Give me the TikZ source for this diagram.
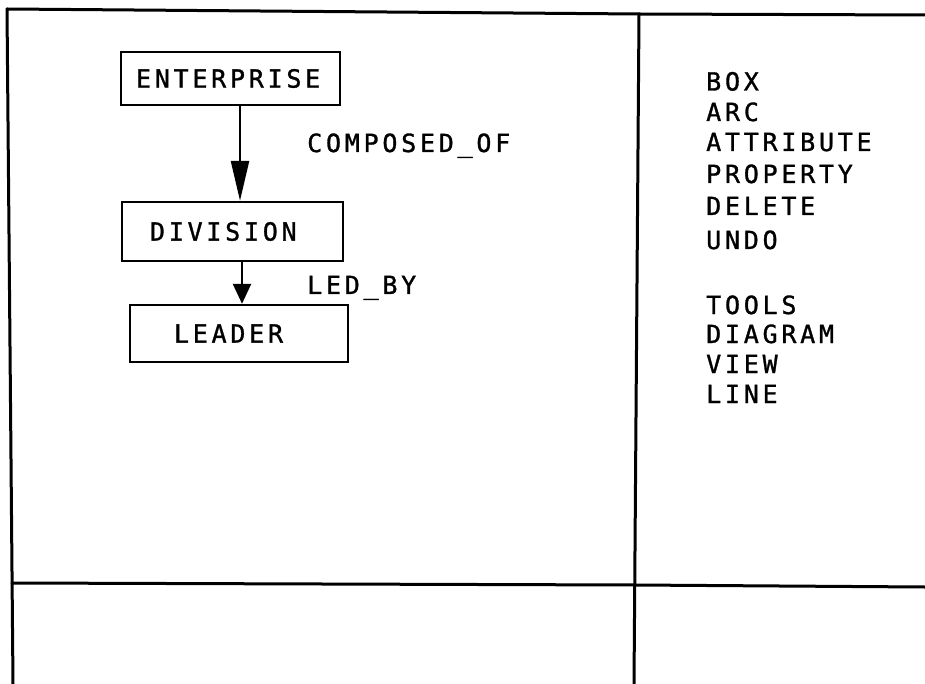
\documentclass[tikz,border=0pt]{standalone}
\usepackage{fontspec}
\newfontfamily\plotfont[LetterSpace=15,FakeBold=1.2]{DejaVu Sans Mono}
\usetikzlibrary{arrows.meta,calc}
\begin{document}
\begin{tikzpicture}[x=1pt,y=-1pt,
  frame/.style={line width=3pt,line cap=round,line join=round},
  boxnode/.style={draw,line width=2.4pt,rectangle,inner ysep=0pt,align=left,font=\plotfont\fontsize{25}{28}\selectfont},
  conn/.style={line width=2.5pt},
  lbl/.style={anchor=base west,inner sep=0pt,font=\plotfont\fontsize{25}{28}\selectfont}]
\useasboundingbox (0,0) rectangle (925,684);
% frame
\draw[frame] (7,9) -- (639,14) -- (925,15);
\draw[frame] (7,9) -- (13,684);
\draw[frame] (639,14) -- (634,684);
\draw[frame] (12,583) -- (635,585) -- (925,587);
% boxes
\node[boxnode,inner xsep=15pt,text width=189pt,minimum height=53pt] (ent) at (230.5,78.5) {ENTERPRISE};
\node[boxnode,inner xsep=28pt,text width=165pt,minimum height=59pt] (div) at (232.5,231.5) {DIVISION};
\node[boxnode,inner xsep=44pt,text width=130pt,minimum height=57pt] (lea) at (239,333.5) {LEADER};
% connectors
\draw[conn,-{Triangle[length=40pt,width=18pt]}] ([xshift=9.5pt]ent.south) -- ([xshift=9.5pt]ent.south |- div.north);
\draw[conn,-{Triangle[length=20pt,width=18pt]}] ([xshift=9.5pt]div.south) -- ([xshift=9.5pt]div.south |- lea.north);
% arc labels
\node[lbl] (l1) at (307,152) {COMPOSED\_OF};
\node[lbl] (l2) at (307,294) {LED\_BY};
% menu
\node[lbl] (m1) at (706,90.5) {BOX};
\node[lbl] (m2) at (706,121) {ARC};
\node[lbl] (m3) at (706,151) {ATTRIBUTE};
\node[lbl] (m4) at (706,183) {PROPERTY};
\node[lbl] (m5) at (706,215) {DELETE};
\node[lbl] (m6) at (706,249) {UNDO};
\node[lbl] (m7) at (706,314) {TOOLS};
\node[lbl] (m8) at (706,343) {DIAGRAM};
\node[lbl] (m9) at (706,373) {VIEW};
\node[lbl] (m10) at (706,403) {LINE};
\end{tikzpicture}
\end{document}
